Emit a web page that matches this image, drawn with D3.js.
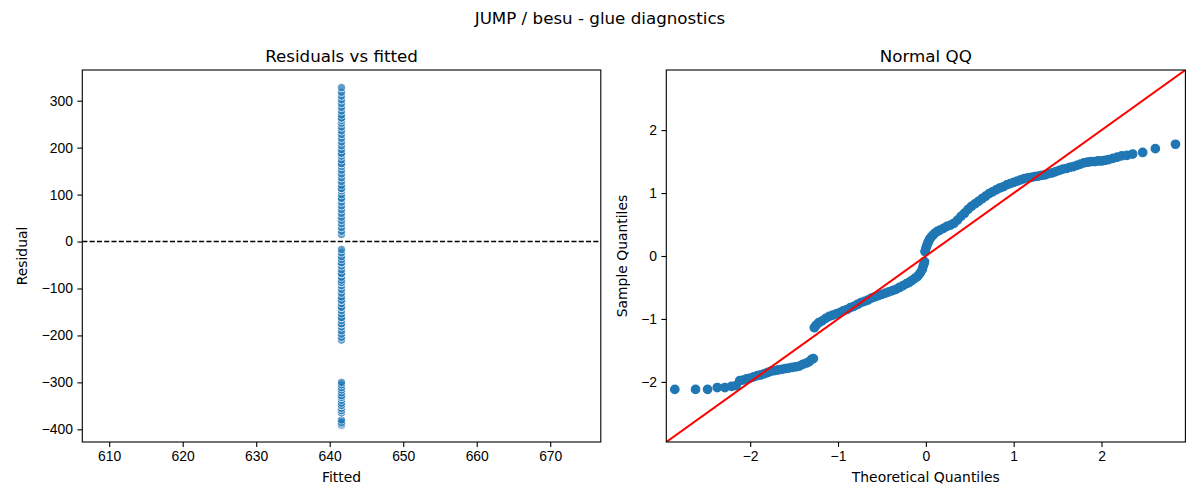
<!DOCTYPE html>
<html>
<head>
<meta charset="utf-8">
<script src="https://cdn.jsdelivr.net/npm/d3@7"></script>
<style>
  body { margin: 0; background: #fff; }
  svg { font-family: "DejaVu Sans", sans-serif; }
  .tick text { font-size: 13.9px; fill: #000; }
  .tick line { stroke: #000; stroke-width: 1.1; }
  .domain { display: none; }
</style>
</head>
<body>
<svg id="chart" width="1200" height="500"></svg>
<script>
// fitted value is the same for every row (intercept-only model)
var fittedValue = 641.6;

// residuals, low to high (repeats show as darker dots)
var residuals = [
  -392, -392, -390, -388, -385, -380, -365, -360, -355, -349, -349, -344, -338, -332, -332,
  -328, -322, -316, -311, -305, -300,
  -210, -204, -197, -190, -182, -175, -175, -168, -162, -162, -154, -147, -140, -140, -132,
  -125, -125, -118, -110, -102, -94, -87, -87, -82, -76, -68, -68, -60, -52, -45, -45,
  -38, -32, -24, -17,
  15, 22, 30, 38, 45, 52, 60, 68, 76, 84, 92, 92, 100, 108, 113, 113, 120, 128, 136, 144,
  152, 160, 166, 166, 174, 182, 188, 188, 196, 204, 212, 220, 228, 236, 244, 252, 258,
  263, 263, 270, 278, 286, 294, 302, 310, 318, 328
];

// normal QQ points
var qqTheoretical = [
  -2.858, -2.622, -2.485, -2.375, -2.288, -2.211, -2.16, -2.12, -2.08, -2.04, -2.00, -1.96, -1.92,
  -1.88, -1.84, -1.80, -1.76, -1.72, -1.68, -1.64, -1.60, -1.56, -1.52, -1.48, -1.44, -1.40,
  -1.36, -1.33, -1.30, -1.28,
  -1.27, -1.25, -1.22, -1.18, -1.14, -1.10, -1.06, -1.02, -0.98, -0.94, -0.90, -0.86, -0.82,
  -0.78, -0.74, -0.70, -0.66, -0.62, -0.58, -0.54, -0.50, -0.46, -0.42, -0.38, -0.34, -0.30,
  -0.26, -0.22, -0.19, -0.16, -0.13, -0.10, -0.08, -0.06, -0.04, -0.03, -0.02, -0.015,
  -0.01, 0.00, 0.01, 0.02, 0.03, 0.045, 0.06, 0.08, 0.10, 0.13, 0.16, 0.20, 0.24, 0.28, 0.32,
  0.36, 0.40, 0.44, 0.48, 0.52, 0.56, 0.60, 0.64, 0.68, 0.72, 0.76, 0.80, 0.84, 0.88, 0.92,
  0.96, 1.00, 1.04, 1.08, 1.12, 1.16, 1.20, 1.24, 1.28, 1.32, 1.36, 1.40, 1.44, 1.48, 1.52,
  1.56, 1.60, 1.64, 1.68, 1.72, 1.76, 1.80, 1.84, 1.88, 1.92, 1.96, 2.00, 2.04, 2.08, 2.13,
  2.18, 2.23, 2.29, 2.355, 2.469, 2.613, 2.842
];
var qqSample = [
  -2.12, -2.12, -2.12, -2.09, -2.09, -2.07, -2.06, -1.98, -1.97, -1.95, -1.94, -1.92, -1.90,
  -1.89, -1.87, -1.85, -1.83, -1.82, -1.81, -1.80, -1.79, -1.78, -1.77, -1.76, -1.75, -1.72,
  -1.70, -1.68, -1.64, -1.63,
  -1.14, -1.10, -1.06, -1.03, -0.99, -0.96, -0.94, -0.92, -0.90, -0.87, -0.85, -0.82, -0.80,
  -0.77, -0.74, -0.72, -0.70, -0.67, -0.65, -0.63, -0.61, -0.59, -0.57, -0.55, -0.53, -0.50,
  -0.47, -0.44, -0.42, -0.39, -0.36, -0.33, -0.30, -0.26, -0.21, -0.16, -0.12, -0.09,
  0.07, 0.12, 0.16, 0.20, 0.23, 0.27, 0.30, 0.33, 0.36, 0.39, 0.41, 0.44, 0.47, 0.49, 0.52,
  0.57, 0.63, 0.68, 0.74, 0.79, 0.83, 0.87, 0.91, 0.95, 0.99, 1.02, 1.05, 1.08, 1.10, 1.13,
  1.15, 1.17, 1.19, 1.21, 1.23, 1.24, 1.25, 1.26, 1.27, 1.28, 1.29, 1.31, 1.32, 1.34, 1.36,
  1.38, 1.39, 1.41, 1.42, 1.44, 1.46, 1.48, 1.49, 1.50, 1.50, 1.51, 1.51, 1.52, 1.53, 1.55,
  1.57, 1.59, 1.60, 1.62, 1.645, 1.705, 1.775
];

var residTicksX = [610, 620, 630, 640, 650, 660, 670];
var residTicksY = [-400, -300, -200, -100, 0, 100, 200, 300];
var qqTicks = [-2, -1, 0, 1, 2];

var blue = '#1f77b4';
var svg = d3.select('#chart');

svg.append('text')
  .attr('x', 600).attr('y', 24)
  .attr('text-anchor', 'middle')
  .style('font-size', '16.7px')
  .text('JUMP / besu - glue diagnostics');

// panel frame + labels, returns the group (plot layer is clipped)
function makePanel(box, title, xlabel, ylabel, ylabelX) {
  var g = svg.append('g');
  g.append('text')
    .attr('x', (box.x0 + box.x1) / 2).attr('y', box.y0 - 8.5)
    .attr('text-anchor', 'middle')
    .style('font-size', '16.7px')
    .text(title);
  g.append('text')
    .attr('x', (box.x0 + box.x1) / 2).attr('y', 482)
    .attr('text-anchor', 'middle')
    .style('font-size', '13.9px')
    .text(xlabel);
  g.append('text')
    .attr('transform', 'translate(' + ylabelX + ',' + ((box.y0 + box.y1) / 2) + ') rotate(-90)')
    .attr('text-anchor', 'middle')
    .attr('dy', '0.35em')
    .style('font-size', '13.9px')
    .text(ylabel);
  var clipId = 'clip' + Math.round(box.x0);
  svg.append('clipPath').attr('id', clipId)
    .append('rect')
    .attr('x', box.x0).attr('y', box.y0)
    .attr('width', box.x1 - box.x0).attr('height', box.y1 - box.y0);
  g.plot = g.append('g').attr('clip-path', 'url(#' + clipId + ')');
  g.frame = function() {
    g.append('rect')
      .attr('x', box.x0).attr('y', box.y0)
      .attr('width', box.x1 - box.x0).attr('height', box.y1 - box.y0)
      .attr('fill', 'none')
      .attr('stroke', '#000')
      .attr('stroke-width', 1.1);
  };
  return g;
}

function drawAxes(g, box, x, y, xt, yt) {
  g.append('g')
    .attr('transform', 'translate(0,' + box.y1 + ')')
    .call(d3.axisBottom(x).tickValues(xt).tickSize(4.9).tickPadding(4.4).tickFormat(d3.format('d')));
  g.append('g')
    .attr('transform', 'translate(' + box.x0 + ',0)')
    .call(d3.axisLeft(y).tickValues(yt).tickSize(4.9).tickPadding(4.4).tickFormat(d3.format('d')));
}

// ---- residuals vs fitted
var boxL = { x0: 82.3, x1: 600.8, y0: 70, y1: 442 };
var xL = d3.scaleLinear().domain([606.34, 676.88]).range([boxL.x0, boxL.x1]);
var yL = d3.scaleLinear().domain([-427, 365.4]).range([boxL.y1, boxL.y0]);
var panelL = makePanel(boxL, 'Residuals vs fitted', 'Fitted', 'Residual', 22);

panelL.plot.selectAll('circle')
  .data(residuals)
  .enter().append('circle')
  .attr('cx', xL(fittedValue))
  .attr('cy', d => yL(d))
  .attr('r', 4.2)
  .attr('fill', blue)
  .attr('stroke', '#fff')
  .attr('stroke-width', 1)
  .attr('opacity', 0.7);

panelL.plot.append('line')
  .attr('x1', boxL.x0).attr('x2', boxL.x1)
  .attr('y1', yL(0)).attr('y2', yL(0))
  .attr('stroke', '#000')
  .attr('stroke-width', 1.4)
  .attr('stroke-dasharray', '5.1,2.2');

drawAxes(panelL, boxL, xL, yL, residTicksX, residTicksY);
panelL.frame();

// ---- normal QQ
var boxR = { x0: 666.3, x1: 1185.4, y0: 70, y1: 442 };
var qqLim = 2.955;
var xR = d3.scaleLinear().domain([-qqLim, qqLim]).range([boxR.x0, boxR.x1]);
var yR = d3.scaleLinear().domain([-qqLim, qqLim]).range([boxR.y1, boxR.y0]);
var panelR = makePanel(boxR, 'Normal QQ', 'Theoretical Quantiles', 'Sample Quantiles', 622);

var qqPoints = qqTheoretical.map((t, i) => ({ t: t, s: qqSample[i] }));

panelR.plot.selectAll('circle')
  .data(qqPoints)
  .enter().append('circle')
  .attr('cx', d => xR(d.t))
  .attr('cy', d => yR(d.s))
  .attr('r', 4.2)
  .attr('fill', blue)
  .attr('stroke', blue)
  .attr('stroke-width', 1.3);

panelR.plot.append('line')
  .attr('x1', xR(-qqLim)).attr('y1', yR(-qqLim))
  .attr('x2', xR(qqLim)).attr('y2', yR(qqLim))
  .attr('stroke', 'red')
  .attr('stroke-width', 2);

drawAxes(panelR, boxR, xR, yR, qqTicks, qqTicks);
panelR.frame();
</script>
</body>
</html>
